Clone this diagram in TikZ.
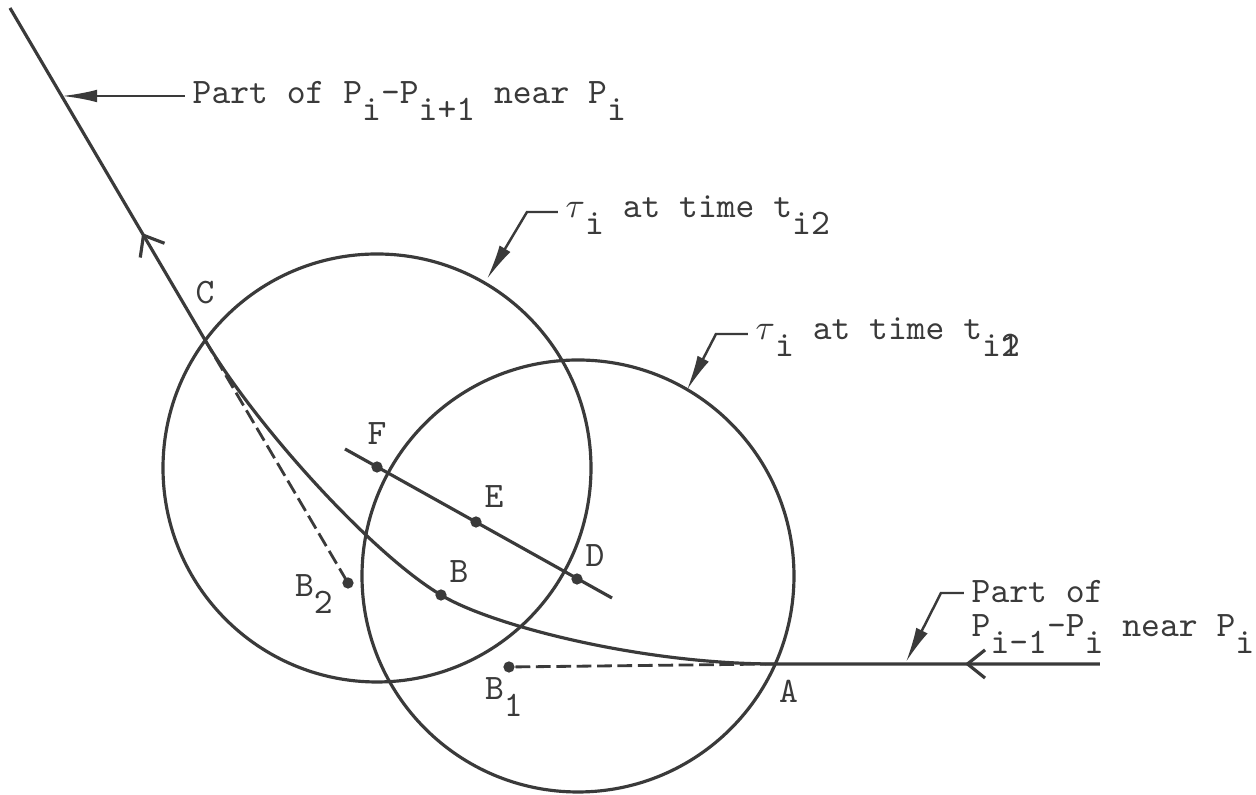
\documentclass[tikz,border=0pt]{standalone}
\usepackage{fontspec}
\usetikzlibrary{arrows.meta,positioning,decorations.markings}
\definecolor{ink}{HTML}{3A3A3A}
\newcommand{\dn}[1]{\raisebox{-0.45em}{#1}}
\tikzset{
  >=Latex,
  every node/.style={font=\ttfamily\fontsize{10.2}{11.5}\selectfont,text=ink},
  orbit/.style={draw=ink,line width=0.9pt},
  track/.style={draw=ink,line width=0.9pt},
  chord/.style={draw=ink,line width=0.9pt},
  tangent/.style={draw=ink,line width=0.8pt,dash pattern=on 4.2pt off 1.6pt},
  leader/.style={draw=ink,line width=0.7pt,-{Latex[length=10pt,width=3.6pt]}},
  dot/.style={circle,fill=ink,inner sep=0pt,minimum size=3.2pt},
  ptlabel/.style={inner sep=1pt},
  note/.style={inner sep=2pt,align=left},
  flowmarks/.style={postaction={decorate},decoration={markings,
    mark=at position 1.35cm with {\arrow{Straight Barb[length=5pt,width=8pt]}},
    mark=at position -2.6cm with {\arrow{Straight Barb[length=5pt,width=8pt]}}}},
}

\begin{document}
\begin{tikzpicture}[x=0.01cm,y=-0.01cm]
\useasboundingbox[fill=white] (0,0) rectangle (1256,795);

% points on the path
\coordinate (top) at (10,8);
\coordinate (C) at (205,340);
\coordinate (A) at (775,664);
\coordinate (far) at (1100,664);
\node[dot] (B) at (441,595) {};
\node[dot] (B1) at (509,667) {};
\node[dot] (B2) at (348,583) {};

% tau_i at the two times
\coordinate (O2) at (377,468);
\coordinate (O1) at (578,576);
\draw[orbit] (O2) circle[radius=214];
\draw[orbit] (O1) circle[radius=216];

% path near P_i
\draw[track,flowmarks] (far) -- (A) .. controls (640,664) and (490,625) .. (B.center)
  .. controls (372,554) and (256,426) .. (C) -- (top);
\draw[tangent] (C) -- (B2.center);
\draw[tangent] (A) -- (B1.center);

% chord F-D
\coordinate (Fs) at (345,449);
\coordinate (De) at (612,598);
\draw[chord] (Fs) -- (De);
\node[dot] (F) at (377,467) {};
\node[dot] (E) at (476,522) {};
\node[dot] (D) at (577,579) {};

% point labels
\node[ptlabel,above=0.32cm of C] (lC) {C};
\node[ptlabel,above=0.12cm of F] (lF) {F};
\node[ptlabel,above right=0.06cm and 0cm of E] (lE) {E};
\node[ptlabel,above right=0.04cm and 0cm of D] (lD) {D};
\node[ptlabel,above right=0.04cm and 0cm of B] (lB) {B};
\node[ptlabel,anchor=base] (lB2) at (314,597) {B\dn{2}};
\node[ptlabel,anchor=base] (lB1) at (504,700) {B\dn{1}};
\node[ptlabel,below right=0.12cm and 0cm of A] (lA) {A};

% notes
\node[note,anchor=base west] (nOut) at (185,104) {Part of P\dn{i}-P\dn{i+1} near P\dn{i}};
\coordinate (hOut) at (62,96);
\draw[leader] (nOut.west |- hOut) -- (hOut);

\node[note,anchor=base west] (nT2) at (558,218) {$\tau$\dn{i} at time t\dn{i2}};
\coordinate (kT2) at (527,212);
\coordinate (hT2) at (487,279);
\draw[leader] (nT2.west |- kT2) -- (kT2) -- (hT2);

\node[note,anchor=base west] (nT1) at (748,340) {$\tau$\dn{i} at time t\dn{i\rlap{1}2}};
\coordinate (kT1) at (716,334);
\coordinate (hT1) at (687,390);
\draw[leader] (nT1.west |- kT1) -- (kT1) -- (hT1);

\node[note,anchor=base west] (nIn) at (964,603) {Part of};
\node[note,anchor=base west] (nIn2) at (964,637) {P\dn{i-1}-P\dn{i} near P\dn{i}};
\coordinate (kIn) at (941,593);
\coordinate (hIn) at (906,662);
\draw[leader] (nIn.west |- kIn) -- (kIn) -- (hIn);

\end{tikzpicture}
\end{document}
